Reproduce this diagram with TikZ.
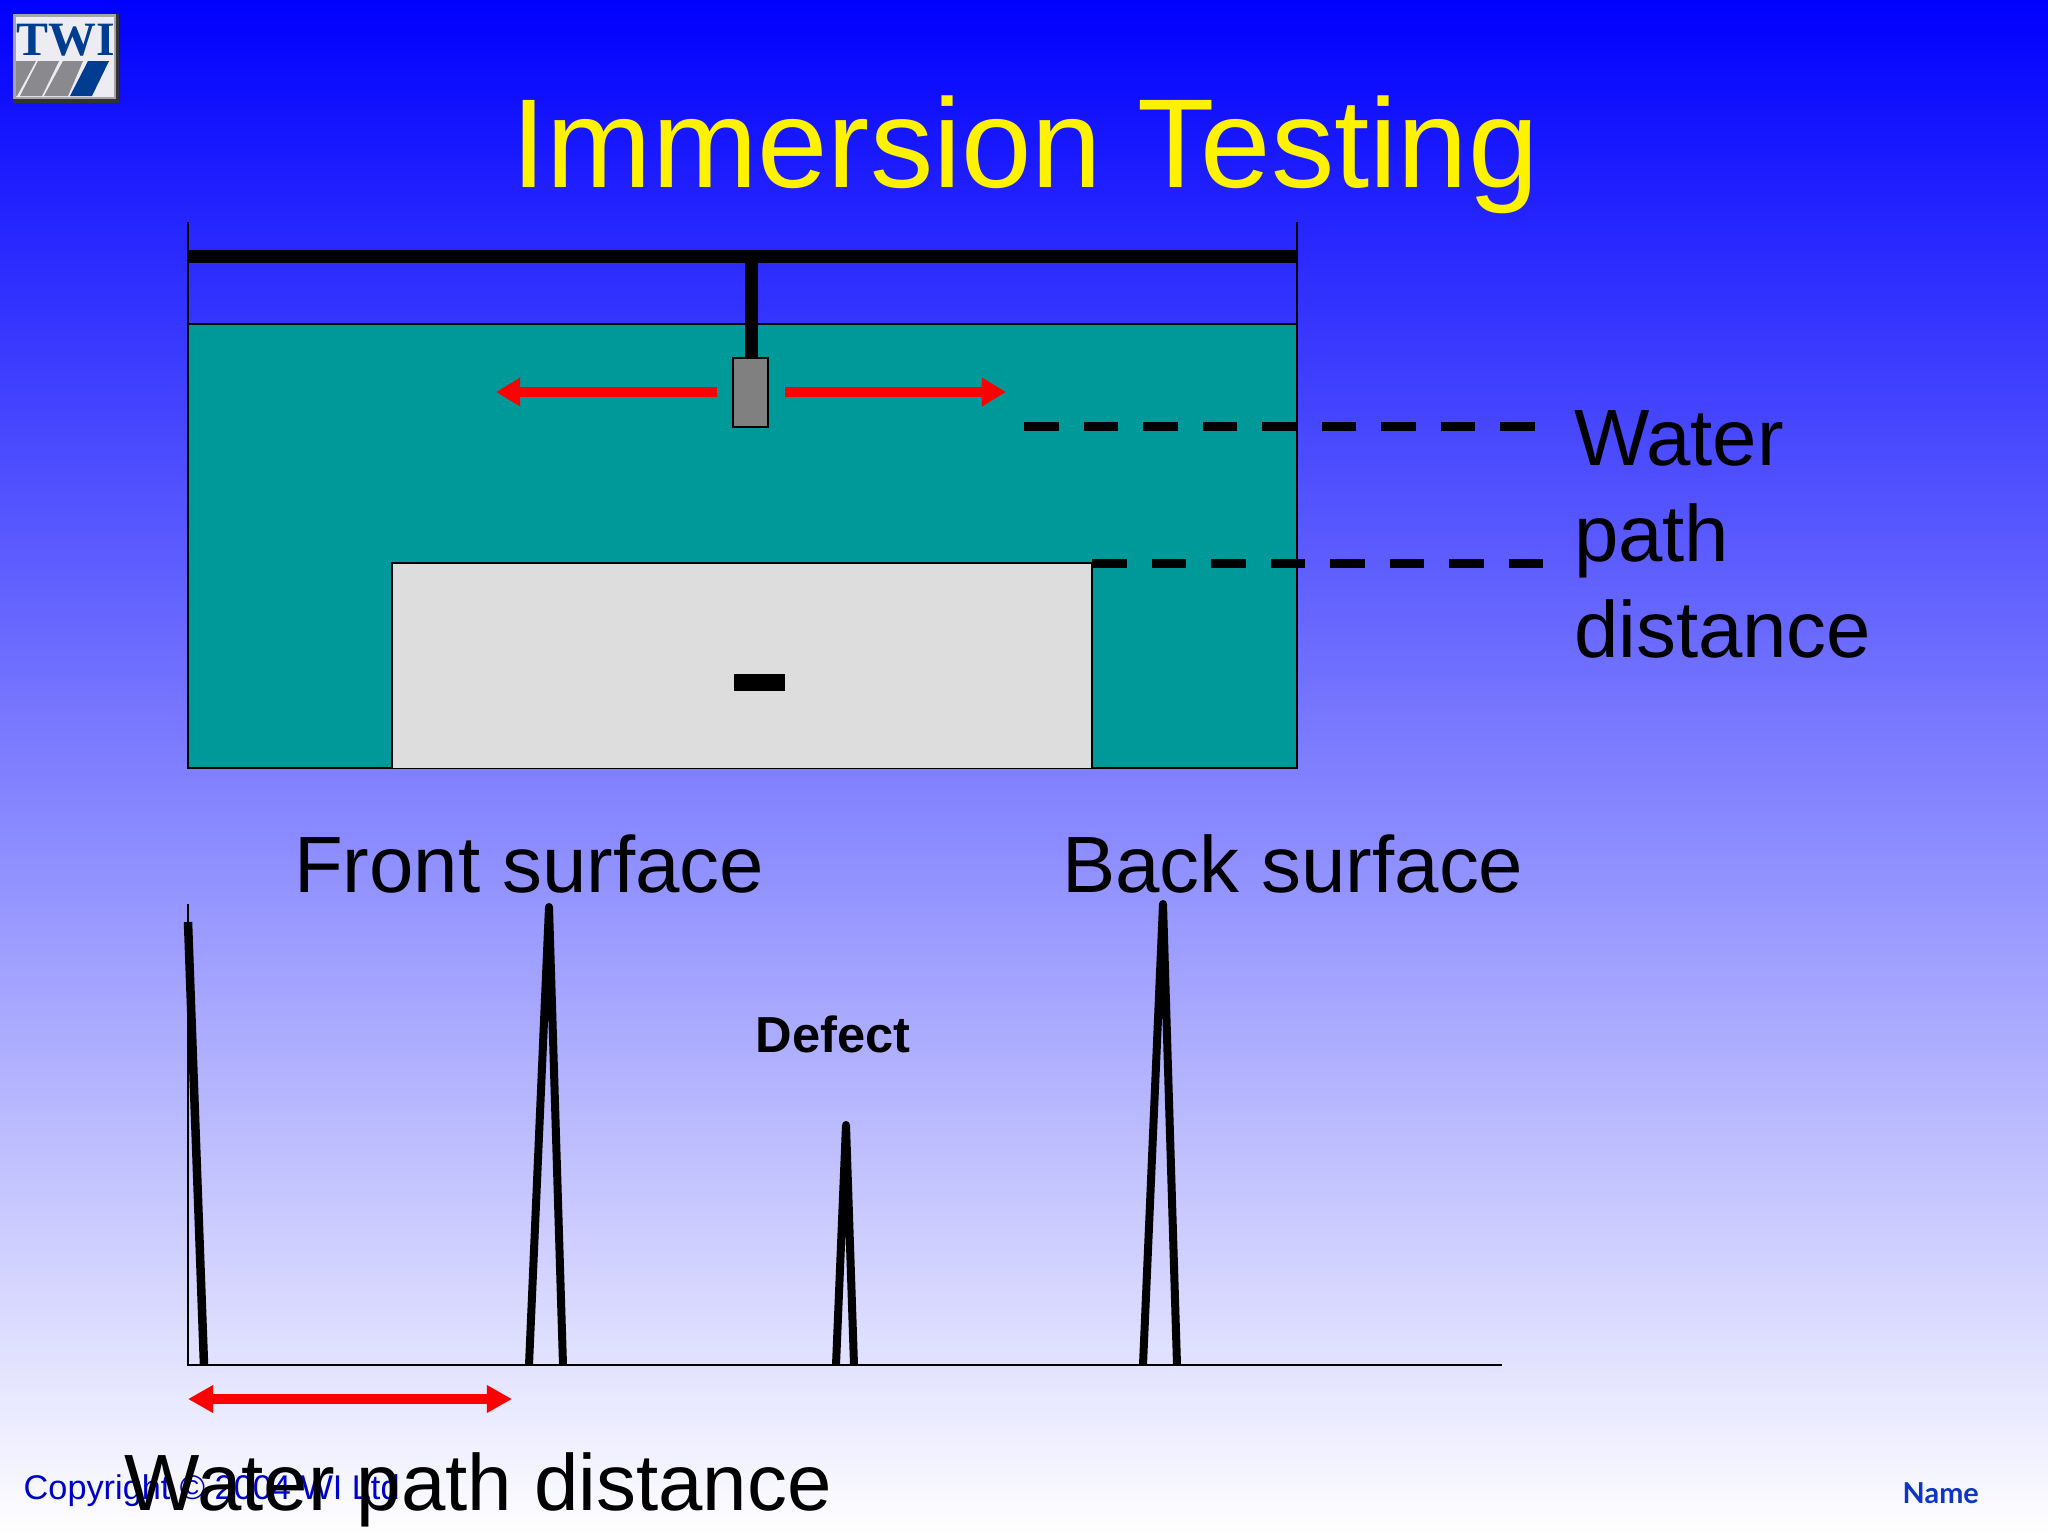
\documentclass[tikz,border=0pt]{standalone}
\usepackage{fontspec}
\setmainfont{Liberation Sans}
\newfontfamily\logofont{Liberation Serif}
\newfontfamily\namefont{Lato}
\usetikzlibrary{arrows.meta}
\definecolor{waterc}{HTML}{009999}
\definecolor{blockc}{HTML}{DDDDDD}
\definecolor{probec}{HTML}{808080}
\definecolor{copyc}{HTML}{0000CC}
\definecolor{namec}{HTML}{0F35C8}
\definecolor{navyc}{HTML}{003C8F}
\definecolor{logog}{HTML}{8A8A8E}
\definecolor{logob}{HTML}{ECECF2}
\tikzset{
  x=0.01cm,y=-0.01cm,
  outl/.style={draw=black,line width=0.02cm},
  txt/.style={anchor=base west,inner sep=0pt,outer sep=0pt,text=black,font=\fontsize{22.7}{27.3}\selectfont},
  redarrow/.style={draw=red,line width=0.1cm,-{Triangle[length=0.24cm,width=0.27cm]}},
  redboth/.style={draw=red,line width=0.1cm,{Triangle[length=0.25cm,width=0.26cm]}-{Triangle[length=0.25cm,width=0.26cm]}},
  dashline/.style={draw=black,line width=0.09cm,dash pattern=on 0.345cm off 0.25cm},
  peak/.style={draw=black,line width=0.08cm,line join=round,line cap=butt},
  heavy/.style={draw=black,line width=0.13cm},
}
\begin{document}
\begin{tikzpicture}
\useasboundingbox (0,0) rectangle (2048,1536);
\shade[top color=blue,bottom color=white] (0,0) rectangle (2048,1536);

% logo
\fill[black!80] (13,14) rectangle (119,103);
\fill[gray!70] (13,14) rectangle (116,99);
\fill[logob] (16,17) rectangle (114,97);
\fill[logog] (16,61) -- (36,61) -- (17,96) -- (16,96) -- cycle;
\fill[logog] (38,61) -- (59,61) -- (42,96) -- (20,96) -- cycle;
\fill[logog] (63,61) -- (83,61) -- (68,96) -- (44,96) -- cycle;
\fill[navyc] (88,61) -- (109,61) -- (92,96) -- (70,96) -- cycle;
\node[anchor=base,inner sep=0pt,text=navyc,font=\logofont\bfseries\fontsize{13.6}{14}\selectfont] (logotext) at (65.5,55.6) {TWI};

% title
\node[anchor=base,inner sep=0pt,text=yellow,font=\fontsize{36}{40}\selectfont] (title) at (1025,187) {Immersion Testing};

% tank
\fill[waterc] (188,324) rectangle (1297,768);
\draw[outl] (188,324) -- (1297,324);
\draw[outl] (188,222) -- (188,768) -- (1297,768) -- (1297,222);
\fill[blockc] (392,563) rectangle (1092,768);
\draw[outl] (392,768) -- (392,563) -- (1092,563) -- (1092,768);
\fill[black] (734,674) rectangle (785,691);
\draw[heavy] (188,256) -- (1297,256);
\draw[heavy] (751,256) -- (751,358);
\draw[outl,fill=probec] (733,358) rectangle (768,427);

% motion arrows
\coordinate (la0) at (717,392);
\coordinate (la1) at (496,392);
\coordinate (ra0) at (785,392);
\coordinate (ra1) at (1006,392);
\draw[redarrow] (la0) -- (la1);
\draw[redarrow] (ra0) -- (ra1);

% dashed leaders
\coordinate (d1a) at (1024,426);
\coordinate (d1b) at (1537,426);
\coordinate (d2a) at (1092,563);
\coordinate (d2b) at (1545,563);
\draw[dashline] (d1a) -- (d1b);
\draw[dashline] (d2a) -- (d2b);

% labels
\node[txt,align=left,anchor=base west] (wpd) at (1574,657) {Water\\path\\distance};
\node[txt] (front) at (294,892) {Front surface};
\node[txt] (back) at (1062,892) {Back surface};
\node[anchor=base west,inner sep=0pt,text=black,font=\bfseries\fontsize{14.4}{16}\selectfont] (defect) at (755,1052) {Defect};

% A-scan
\draw[outl] (188,904) -- (188,1365) -- (1502,1365);
\draw[peak,line width=0.085cm] (188,922) -- (204,1365);
\draw[peak] (529,1365) -- (549,907) -- (563,1365);
\draw[peak] (836,1365) -- (846,1125) -- (854,1365);
\draw[peak] (1143,1365) -- (1163,904) -- (1177,1365);

% distance arrow
\coordinate (wa) at (188,1399);
\coordinate (wb) at (512,1399);
\draw[redboth] (wa) -- (wb);

% footer
\node[anchor=base west,inner sep=0pt,text=copyc,font=\fontsize{9.75}{11}\selectfont] (copy) at (23,1499) {Copyright © 2004 WI Ltd};
\node[anchor=base west,inner sep=0pt,text=black,font=\fontsize{22.7}{27}\selectfont] (bottom) at (124,1510) {Water path distance};
\node[anchor=base west,inner sep=0pt,text=namec,font=\namefont\bfseries\fontsize{8.2}{10}\selectfont] (name) at (1902,1503) {Name};
\end{tikzpicture}
\end{document}
